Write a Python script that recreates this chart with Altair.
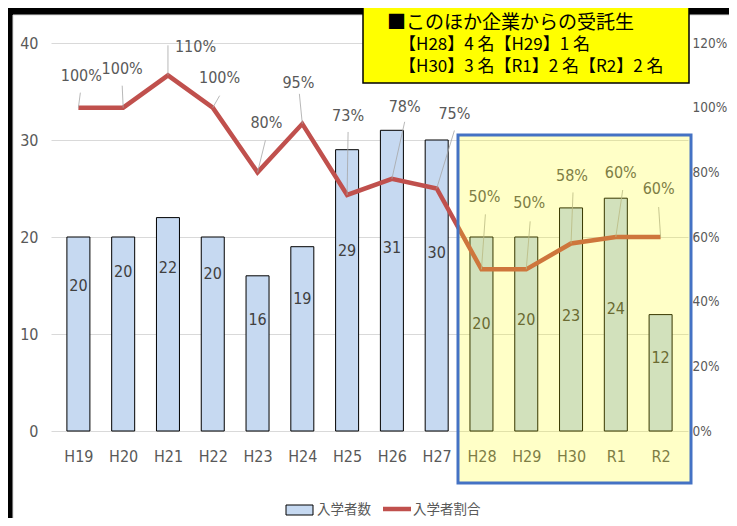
import altair as alt
import pandas as pd

# ---- data ----
categories = ["H19", "H20", "H21", "H22", "H23", "H24", "H25", "H26", "H27",
              "H28", "H29", "H30", "R1", "R2"]
enrolled = [20, 20, 22, 20, 16, 19, 29, 31, 30, 20, 20, 23, 24, 12]
ratio = [1.00, 1.00, 1.10, 1.00, 0.80, 0.95, 0.73, 0.78, 0.75,
         0.50, 0.50, 0.58, 0.60, 0.60]

note_lines = ["■このほか企業からの受託生",
              "【H28】4 名【H29】1 名",
              "【H30】3 名【R1】2 名【R2】2 名"]
legend_labels = ["入学者数", "入学者割合"]

# ---- label layout (offsets, not data) ----
bar_label_level = [15.0, 16.4, 16.8, 16.2, 11.4, 13.6, 18.6, 18.9, 18.35,
                   11.0, 11.4, 11.9, 12.6, 7.5]
pct_label_dx = [3, -1, 28, 7, 9, -4, 1, 13, 18, 3, 3, 1, 5, -2]
pct_label_dy = [-32, -39, -28, -30, -49, -41, -79, -72, -75, -72, -66, -67, -64, -48]
leader_dx = [2, -1, 0, 7, 8, -3, 1, 13, 18, 4, 4, 2, 7, -2]
leader_dy = [-15, -22, -30, -12, -32, -30, -63, -57, -58, -55, -48, -51, -47, -30]

W, H = 637, 388
N = len(categories)
ux = W / N          # px per x unit
ur = H / 1.2        # px per ratio unit

NUM_FONT = "Liberation Sans Narrow, DejaVu Sans Condensed, Roboto, sans-serif"
JP_FONT = "Noto Sans CJK JP"
GREY = "#595959"
FS = 16

df = pd.DataFrame({
    "x": list(range(N)),
    "cat": categories,
    "n": enrolled,
    "r": ratio,
    "nl": bar_label_level,
    "lx": [i + d / ux for i, d in enumerate(pct_label_dx)],
    "ly": [r - d / ur for r, d in zip(ratio, pct_label_dy)],
    "ex": [i + d / ux for i, d in enumerate(leader_dx)],
    "ey": [r - d / ur for r, d in zip(ratio, leader_dy)],
    "pct": [f"{round(r * 100)}%" for r in ratio],
})

xs = alt.Scale(domain=[-0.5, N - 0.5], nice=False, zero=False)
ys = alt.Scale(domain=[0, 40], nice=False)
rs = alt.Scale(domain=[0, 1.2], nice=False)

label_expr = "[" + ",".join(f"'{c}'" for c in categories) + "][datum.value]"
x_axis = alt.Axis(
    values=list(range(N)), labelExpr=label_expr, grid=False, domain=False,
    ticks=False, labelPadding=17, labelFontSize=FS, labelColor=GREY,
    labelFont=NUM_FONT, title=None)
left_axis = alt.Axis(
    values=[0, 10, 20, 30, 40], grid=True, gridColor="#D9D9D9", gridWidth=1,
    domain=False, ticks=False, labelPadding=13, labelFontSize=FS,
    labelColor=GREY, labelFont=NUM_FONT, title=None)
right_axis = alt.Axis(
    orient="right", values=[0, 0.2, 0.4, 0.6, 0.8, 1.0, 1.2], format=".0%",
    grid=False, domain=False, ticks=False, labelPadding=4,
    labelFontSize=13.5, labelColor=GREY, labelFont=NUM_FONT, title=None)

base = alt.Chart(df)

bars = base.mark_bar(size=23, color="#C6D9F1", stroke="#000000", strokeWidth=1).encode(
    x=alt.X("x:Q", scale=xs, axis=x_axis),
    y=alt.Y("n:Q", scale=ys, axis=left_axis),
)
bar_labels = base.mark_text(font=NUM_FONT, fontSize=FS, color="#404040",
                            baseline="middle").encode(
    x=alt.X("x:Q", scale=xs, axis=x_axis),
    y=alt.Y("nl:Q", scale=ys, axis=left_axis),
    text="n:Q",
)
left = alt.layer(bars, bar_labels)

line = base.mark_line(color="#C0504D", strokeWidth=4.5).encode(
    x=alt.X("x:Q", scale=xs, axis=x_axis),
    y=alt.Y("r:Q", scale=rs, axis=right_axis),
)
leaders = base.mark_rule(color="#A6A6A6", strokeWidth=0.8).encode(
    x=alt.X("x:Q", scale=xs, axis=x_axis),
    x2="ex:Q",
    y=alt.Y("r:Q", scale=rs, axis=right_axis),
    y2="ey:Q",
)
pct_labels = base.mark_text(font=NUM_FONT, fontSize=FS, color=GREY,
                            baseline="middle").encode(
    x=alt.X("lx:Q", scale=xs, axis=x_axis),
    y=alt.Y("ly:Q", scale=rs, axis=right_axis),
    text="pct:N",
)
right = alt.layer(line, leaders, pct_labels)

one = alt.Data(values=[{}])

def box(x, x2, y, y2, **kw):
    return alt.Chart(one).mark_rect(**kw).encode(
        x=alt.value(x), x2=alt.value(x2), y=alt.value(y), y2=alt.value(y2))

def label(x, y, text, **kw):
    return alt.Chart(one).mark_text(**kw).encode(
        x=alt.value(x), y=alt.value(y), text=alt.value(text))

frame = box(-38, 700, -28, 500, fill="transparent", stroke="#D9D9D9", strokeWidth=1)
strip_left = box(-43, -38, -35, 500, fill="#000000")
strip_top = box(-43, 700, -35, -28, fill="#000000")

overlay = box(407, 640, 92, 440, fill="#FFFF00", fillOpacity=0.22,
              stroke="#4472C4", strokeWidth=3)

note_box = box(312, 638, -36, 40, fill="#FFFF00", stroke="#000000", strokeWidth=1.5)
note1 = label(336, -20, note_lines[0], font=JP_FONT, fontSize=19, color="#000000",
              align="left", baseline="middle")
note2 = label(348, 2, note_lines[1], font=JP_FONT, fontSize=17, color="#000000",
              align="left", baseline="middle")
note3 = label(348, 24, note_lines[2], font=JP_FONT, fontSize=17, color="#000000",
              align="left", baseline="middle")

leg_rect = box(235, 262, 462, 472, fill="#C6D9F1", stroke="#000000", strokeWidth=1)
leg_text1 = label(266, 467, legend_labels[0], font=JP_FONT, fontSize=13.5, color=GREY,
                  align="left", baseline="middle")
leg_line = alt.Chart(one).mark_rule(color="#C0504D", strokeWidth=4.5).encode(
    x=alt.value(332), x2=alt.value(360), y=alt.value(466))
leg_text2 = label(362, 467, legend_labels[1], font=JP_FONT, fontSize=13.5, color=GREY,
                  align="left", baseline="middle")

chart = alt.layer(
    strip_left, strip_top, frame,
    left, right,
    overlay,
    note_box, note1, note2, note3,
    leg_rect, leg_text1, leg_line, leg_text2,
).resolve_scale(y="independent").properties(
    width=W, height=H,
    autosize=alt.AutoSizeParams(type="none"),
    padding={"left": 43, "top": 35, "right": 41, "bottom": 87},
    background="#FFFFFF",
).configure_view(stroke=None)

chart.save("out.html", embed_options={"renderer": "svg", "actions": False})
